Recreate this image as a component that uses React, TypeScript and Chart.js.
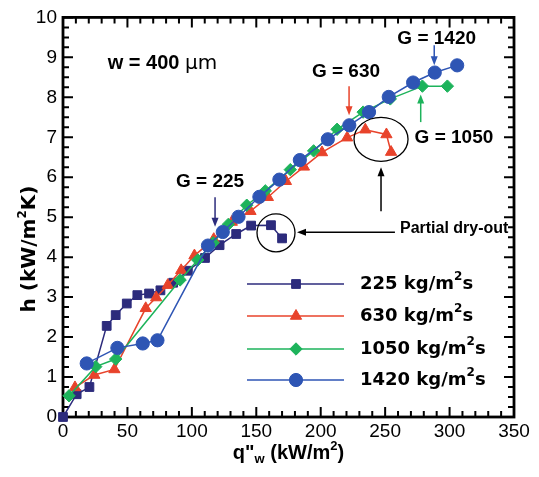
import React, { useEffect, useRef } from "react";
import { Chart, registerables } from "chart.js";

Chart.register(...registerables);

// ---- Data ----
const xTickStep = 50;
const yTickStep = 1;
const xMax = 350;
const yMax = 10;

const seriesLabels = ["225", "630", "1050", "1420"];

const q225 = [0, 10.6, 20.5, 33.9, 40.9, 49.5, 57.7, 66.8, 75.6, 85.5, 96.9, 110.2, 121.5, 134.4, 146.0, 161.4, 170.0];
const h225 = [0.0, 0.57, 0.75, 2.28, 2.55, 2.84, 3.05, 3.09, 3.17, 3.36, 3.66, 3.98, 4.30, 4.58, 4.79, 4.80, 4.47];

const q630 = [9.3, 24.3, 39.9, 64.2, 72.3, 81.3, 91.7, 102.0, 117.0, 131.0, 145.5, 159.0, 173.0, 187.0, 201.0, 220.5, 234.6, 251.0, 254.6];
const h630 = [0.74, 1.05, 1.19, 2.72, 2.99, 3.30, 3.67, 4.04, 4.45, 4.88, 5.15, 5.50, 5.90, 6.26, 6.62, 6.99, 7.19, 7.07, 6.63];

const q1050 = [4.7, 25.4, 40.9, 90.9, 104.6, 116.5, 128.3, 142.6, 157.0, 176.4, 194.5, 212.7, 232.9, 254.0, 278.9, 298.3];
const h1050 = [0.53, 1.26, 1.45, 3.43, 3.93, 4.36, 4.82, 5.30, 5.66, 6.19, 6.66, 7.20, 7.63, 7.96, 8.28, 8.28];

const q1420 = [18.4, 42.2, 61.9, 73.3, 112.5, 124.0, 136.2, 152.4, 167.9, 183.8, 205.5, 222.2, 237.5, 252.8, 271.7, 288.5, 305.9];
const h1420 = [1.34, 1.73, 1.84, 1.92, 4.29, 4.63, 5.01, 5.51, 5.94, 6.43, 6.95, 7.30, 7.63, 8.01, 8.37, 8.62, 8.80];

const NAVY = "#2c2b7c";
const RED = "#e8432b";
const GREEN = "#1db35b";
const BLUE = "#2e55b4";

const colors = [NAVY, RED, GREEN, BLUE];
const styles = ["rect", "triangle", "rectRot", "circle"];
const radii = [6.2, 6.5, 6.2, 6.6];

const toPoints = (qs: number[], hs: number[]) => qs.map((q, i) => ({ x: q, y: hs[i] }));

type Piece = { t: string; font: string; dy?: number };

function drawRich(ctx: CanvasRenderingContext2D, pieces: Piece[], x: number, y: number, align: "left" | "center") {
  let total = 0;
  for (const p of pieces) {
    ctx.font = p.font;
    total += ctx.measureText(p.t).width;
  }
  let cx = align === "center" ? x - total / 2 : x;
  ctx.textAlign = "left";
  ctx.textBaseline = "middle";
  for (const p of pieces) {
    ctx.font = p.font;
    ctx.fillText(p.t, cx, y + (p.dy || 0));
    cx += ctx.measureText(p.t).width;
  }
}

function drawMarker(ctx: CanvasRenderingContext2D, style: string, x: number, y: number, r: number, color: string) {
  ctx.save();
  ctx.fillStyle = color;
  ctx.strokeStyle = color;
  ctx.lineWidth = 1;
  ctx.beginPath();
  if (style === "rect") {
    const s = Math.SQRT1_2 * r;
    ctx.rect(x - s, y - s, 2 * s, 2 * s);
  } else if (style === "triangle") {
    for (let k = 0; k < 3; k++) {
      const a = (k * 2 * Math.PI) / 3;
      const px = x + Math.sin(a) * r;
      const py = y - Math.cos(a) * r;
      if (k === 0) ctx.moveTo(px, py);
      else ctx.lineTo(px, py);
    }
    ctx.closePath();
  } else if (style === "rectRot") {
    ctx.moveTo(x, y - r);
    ctx.lineTo(x + r, y);
    ctx.lineTo(x, y + r);
    ctx.lineTo(x - r, y);
    ctx.closePath();
  } else {
    ctx.arc(x, y, r, 0, Math.PI * 2);
  }
  ctx.fill();
  ctx.stroke();
  ctx.restore();
}

function arrow(ctx: CanvasRenderingContext2D, x1: number, y1: number, x2: number, y2: number, color: string) {
  const ang = Math.atan2(y2 - y1, x2 - x1);
  const L = 9;
  const W = 3.5;
  ctx.save();
  ctx.strokeStyle = color;
  ctx.fillStyle = color;
  ctx.lineWidth = 1.5;
  ctx.beginPath();
  ctx.moveTo(x1, y1);
  ctx.lineTo(x2 - Math.cos(ang) * L * 0.8, y2 - Math.sin(ang) * L * 0.8);
  ctx.stroke();
  ctx.beginPath();
  ctx.moveTo(x2, y2);
  ctx.lineTo(x2 - Math.cos(ang) * L - Math.sin(ang) * W, y2 - Math.sin(ang) * L + Math.cos(ang) * W);
  ctx.lineTo(x2 - Math.cos(ang) * L + Math.sin(ang) * W, y2 - Math.sin(ang) * L - Math.cos(ang) * W);
  ctx.closePath();
  ctx.fill();
  ctx.restore();
}

const framePlugin = {
  id: "frameTicks",
  beforeDatasetsDraw(chart: any) {
    const { ctx, chartArea } = chart;
    const { left, right, top, bottom } = chartArea;
    const xs = chart.scales.x;
    const ys = chart.scales.y;
    ctx.save();
    ctx.strokeStyle = "#000";
    ctx.lineWidth = 2;
    ctx.beginPath();
    for (let v = 0; v <= xMax + 1e-9; v += 10) {
      const px = xs.getPixelForValue(v);
      const len = Math.abs(v % xTickStep) < 1e-6 ? 10 : 6;
      ctx.moveTo(px, bottom);
      ctx.lineTo(px, bottom - len);
      ctx.moveTo(px, top);
      ctx.lineTo(px, top + len);
    }
    for (let v = 0; v <= yMax + 1e-9; v += 0.25) {
      const py = ys.getPixelForValue(v);
      const len = Math.abs(v - Math.round(v)) < 1e-6 ? 10 : 6;
      ctx.moveTo(left, py);
      ctx.lineTo(left + len, py);
      ctx.moveTo(right, py);
      ctx.lineTo(right - len, py);
    }
    ctx.stroke();
    ctx.lineWidth = 2.8;
    ctx.strokeRect(left, top, right - left, bottom - top);
    ctx.restore();
  },
  afterDraw(chart: any) {
    const { ctx, chartArea } = chart;
    const xs = chart.scales.x;
    const ys = chart.scales.y;
    const X = (v: number) => xs.getPixelForValue(v);
    const Y = (v: number) => ys.getPixelForValue(v);
    ctx.save();
    ctx.fillStyle = "#000";

    // axis titles
    const tb = "bold 20px 'Liberation Sans', Arial, sans-serif";
    const ts = "bold 13px 'Liberation Sans', Arial, sans-serif";
    drawRich(
      ctx,
      [
        { t: "q\"", font: tb },
        { t: "w", font: ts, dy: 6 },
        { t: " (kW/m", font: tb },
        { t: "2", font: ts, dy: -7 },
        { t: ")", font: tb },
      ],
      (chartArea.left + chartArea.right) / 2,
      453,
      "center"
    );
    ctx.save();
    ctx.translate(30, 249);
    ctx.rotate(-Math.PI / 2);
    const yb = "bold 20px 'DejaVu Sans', sans-serif";
    const ysf = "bold 12px 'DejaVu Sans', sans-serif";
    drawRich(
      ctx,
      [
        { t: "h (kW/m", font: yb },
        { t: "2", font: ysf, dy: -7 },
        { t: "K)", font: yb },
      ],
      0,
      0,
      "center"
    );
    ctx.restore();

    // annotations
    const ab = "bold 19px 'Liberation Sans', Arial, sans-serif";
    drawRich(
      ctx,
      [
        { t: "w = 400 ", font: "bold 20px 'Liberation Sans', Arial, sans-serif" },
        { t: "\u03bcm", font: "20px 'DejaVu Sans', sans-serif" },
      ],
      X(77.2),
      Y(8.84),
      "center"
    );
    drawRich(ctx, [{ t: "G = 225", font: ab }], X(114.1), Y(5.875), "center");
    drawRich(ctx, [{ t: "G = 630", font: ab }], X(219.6), Y(8.65), "center");
    drawRich(ctx, [{ t: "G = 1420", font: ab }], X(290), Y(9.47), "center");
    drawRich(ctx, [{ t: "G = 1050", font: ab }], X(303.4), Y(6.99), "center");
    drawRich(ctx, [{ t: "Partial dry-out", font: "bold 16px 'Liberation Sans', Arial, sans-serif" }], X(261.5), Y(4.72), "left");

    arrow(ctx, X(118), Y(5.5), X(118), Y(4.76), NAVY);
    arrow(ctx, X(222), Y(8.275), X(222), Y(7.55), RED);
    arrow(ctx, X(288.1), Y(9.3), X(288.1), Y(8.8), BLUE);
    arrow(ctx, X(277.6), Y(7.38), X(277.6), Y(8.07), GREEN);
    arrow(ctx, X(257.6), Y(4.625), X(181.6), Y(4.625), "#000");
    arrow(ctx, X(246.8), Y(5.15), X(246.8), Y(6.25), "#000");

    ctx.strokeStyle = "#000";
    ctx.lineWidth = 1.3;
    ctx.beginPath();
    ctx.ellipse(X(246.8), Y(6.95), 27, 22, 0, 0, Math.PI * 2);
    ctx.stroke();
    ctx.beginPath();
    ctx.arc(X(165.3), Y(4.61), 19, 0, Math.PI * 2);
    ctx.stroke();

    // legend
    const rowsY = [284, 316, 349, 380];
    const lb = "bold 18px 'DejaVu Sans', sans-serif";
    const ls = "bold 12px 'DejaVu Sans', sans-serif";
    seriesLabels.forEach((lab, i) => {
      const yy = rowsY[i];
      ctx.strokeStyle = colors[i];
      ctx.lineWidth = 1.5;
      ctx.beginPath();
      ctx.moveTo(247, yy);
      ctx.lineTo(344, yy);
      ctx.stroke();
      drawMarker(ctx, styles[i], 296, yy, radii[i], colors[i]);
      ctx.fillStyle = "#000";
      drawRich(
        ctx,
        [
          { t: lab + " kg/m", font: lb },
          { t: "2", font: ls, dy: -7 },
          { t: "s", font: lb },
        ],
        360,
        yy,
        "left"
      );
    });
    ctx.restore();
  },
};

export default function App() {
  const ref = useRef<HTMLCanvasElement | null>(null);
  useEffect(() => {
    if (!ref.current) return;
    const all = [
      toPoints(q225, h225),
      toPoints(q630, h630),
      toPoints(q1050, h1050),
      toPoints(q1420, h1420),
    ];
    const chart = new Chart(ref.current, {
      type: "scatter",
      data: {
        datasets: all.map((d, i) => ({
          label: seriesLabels[i] + " kg/m2s",
          data: d,
          showLine: true,
          borderColor: colors[i],
          backgroundColor: colors[i],
          borderWidth: 1.5,
          pointStyle: styles[i] as any,
          pointRadius: radii[i],
          pointBorderWidth: 1,
          pointBorderColor: colors[i],
          pointBackgroundColor: colors[i],
          order: 4 - i,
          clip: false as any,
        })),
      },
      options: {
        animation: false,
        responsive: false,
        layout: { padding: { left: 0, right: 25, top: 17, bottom: 0 } },
        plugins: { legend: { display: false }, tooltip: { enabled: false } },
        scales: {
          x: {
            type: "linear",
            min: 0,
            max: xMax,
            afterFit: (s: any) => {
              s.height = 60;
            },
            ticks: {
              stepSize: xTickStep,
              color: "#000",
              padding: 3,
              font: { family: "'Liberation Sans', Arial, sans-serif", size: 19 },
              maxRotation: 0,
            },
            grid: { display: false, drawTicks: false },
            border: { display: false },
          },
          y: {
            type: "linear",
            min: 0,
            max: yMax,
            afterFit: (s: any) => {
              s.width = 63;
            },
            ticks: {
              stepSize: yTickStep,
              color: "#000",
              padding: 6,
              font: { family: "'Liberation Sans', Arial, sans-serif", size: 19 },
            },
            grid: { display: false, drawTicks: false },
            border: { display: false },
          },
        },
      },
      plugins: [framePlugin],
    });
    return () => chart.destroy();
  }, []);
  return (
    <div style={{ position: "absolute", left: 0, top: 0, width: 539, height: 477, background: "#fff" }}>
      <canvas ref={ref} width={539} height={477} style={{ display: "block" }} />
    </div>
  );
}
